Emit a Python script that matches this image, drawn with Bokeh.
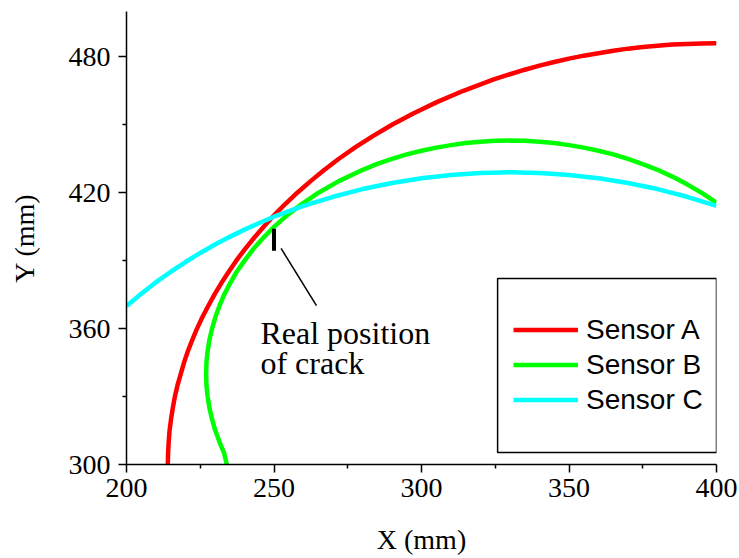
from bokeh.plotting import figure
from bokeh.models import (Range1d, FixedTicker, Legend, LegendItem, Label,
                          BoxAnnotation)
from bokeh.embed import file_html
from bokeh.resources import INLINE

# Located crack position arcs, one per sensor (X, Y in mm)
sensor_a_x = [214.0, 214.1, 214.3, 214.6, 215.1, 215.7, 216.4, 217.3, 218.4, 219.5,
              220.8, 222.3, 223.9, 225.7, 227.7, 229.8, 232.1, 234.6, 237.2, 240.1,
              243.2, 246.5, 250.0, 253.8, 257.9, 262.3, 267.0, 272.0, 277.5, 283.5,
              290.0, 297.2, 305.2, 314.2, 324.5, 330.0, 335.0, 340.0, 345.0, 350.0,
              355.0, 360.0, 365.0, 370.0, 375.0, 380.0, 385.0, 390.0, 395.0, 400.0]
sensor_a_y = [300.0, 305.0, 310.0, 315.0, 320.0, 325.0, 330.0, 335.0, 340.0, 345.0,
              350.0, 355.0, 360.0, 365.0, 370.0, 375.0, 380.0, 385.0, 390.0, 395.0,
              400.0, 405.0, 410.0, 415.0, 420.0, 425.0, 430.0, 435.0, 440.0, 445.0,
              450.0, 455.0, 460.0, 465.0, 470.0, 472.3, 474.3, 476.1, 477.7, 479.2,
              480.5, 481.6, 482.7, 483.6, 484.3, 484.9, 485.4, 485.7, 485.9, 486.0]

sensor_b_x = [234.0, 233.1, 231.5, 230.1, 229.0, 228.1, 227.5, 227.1, 227.0, 227.1,
              227.5, 228.1, 229.0, 230.1, 231.5, 233.1, 235.1, 237.3, 240.0, 242.9,
              246.3, 250.1, 254.4, 259.4, 265.1, 271.8, 279.9, 285.0, 290.0, 295.0,
              300.0, 305.0, 310.0, 315.0, 320.0, 325.0, 330.0, 335.0, 340.0, 345.0,
              350.0, 355.0, 360.0, 365.0, 370.0, 375.0, 380.0, 385.0, 390.0, 395.0,
              400.0]
sensor_b_y = [300.0, 305.0, 310.0, 315.0, 320.0, 325.0, 330.0, 335.0, 340.0, 345.0,
              350.0, 355.0, 360.0, 365.0, 370.0, 375.0, 380.0, 385.0, 390.0, 395.0,
              400.0, 405.0, 410.0, 415.0, 420.0, 425.0, 430.0, 432.7, 434.9, 436.9,
              438.5, 439.9, 441.0, 441.9, 442.5, 442.9, 443.0, 442.9, 442.5, 441.9,
              441.0, 439.9, 438.5, 436.9, 434.9, 432.6, 430.1, 427.1, 423.7, 419.9,
              415.6]

sensor_c_x = [200, 205, 210, 215, 220, 225, 230, 235, 240, 245, 250, 260, 270, 280,
              290, 300, 310, 320, 330, 340, 350, 360, 370, 380, 390, 400]
sensor_c_y = [370.0, 375.4, 380.5, 385.1, 389.4, 393.4, 397.1, 400.5, 403.7, 406.6,
              409.4, 414.2, 418.2, 421.6, 424.3, 426.4, 427.8, 428.7, 429.0, 428.7,
              427.8, 426.4, 424.3, 421.6, 418.2, 414.2]

series_names = ["Sensor A", "Sensor B", "Sensor C"]
series_colors = ["#ff0000", "#00ff00", "#00ffff"]

# Actual crack location (short vertical mark) and its leader line
crack_x = [250.0, 250.0]
crack_y = [394.4, 404.1]
leader_x = [252.4, 264.4]
leader_y = [395.4, 370.1]

x_ticks = [200, 250, 300, 350, 400]
x_minor = [225, 275, 325, 375]
y_ticks = [300, 360, 420, 480]
y_minor = [330, 390, 450]

SERIF = "Liberation Serif"
SANS = "Liberation Sans"

p = figure(width=739, height=558, output_backend="svg", toolbar_location=None,
           x_range=Range1d(200, 400), y_range=Range1d(300, 500),
           min_border_left=126, min_border_right=23, min_border_top=11,
           min_border_bottom=94)
p.outline_line_color = None
p.xgrid.visible = False
p.ygrid.visible = False
p.background_fill_color = "white"
p.border_fill_color = "white"

for ax, ticks, minor, label in ((p.xaxis[0], x_ticks, x_minor, "X (mm)"),
                                (p.yaxis[0], y_ticks, y_minor, "Y (mm)")):
    ax.ticker = FixedTicker(ticks=ticks, minor_ticks=minor)
    ax.axis_label = label
    ax.axis_line_width = 1.5
    ax.axis_line_color = "black"
    ax.major_tick_line_width = 1.5
    ax.minor_tick_line_width = 1.5
    ax.major_tick_line_color = "black"
    ax.minor_tick_line_color = "black"
    ax.major_tick_in = 0
    ax.major_tick_out = 8
    ax.minor_tick_in = 0
    ax.minor_tick_out = 4
    ax.major_label_text_font = SERIF
    ax.major_label_text_font_size = "28px"
    ax.major_label_text_color = "black"
    ax.axis_label_text_font = SERIF
    ax.axis_label_text_font_size = "28px"
    ax.axis_label_text_font_style = "normal"
    ax.axis_label_text_color = "black"

p.xaxis[0].major_label_standoff = 6
p.xaxis[0].axis_label_standoff = 24
p.yaxis[0].major_label_standoff = 8
p.yaxis[0].axis_label_standoff = 26

renderers = []
for xs, ys, color in ((sensor_a_x, sensor_a_y, series_colors[0]),
                      (sensor_b_x, sensor_b_y, series_colors[1]),
                      (sensor_c_x, sensor_c_y, series_colors[2])):
    r = p.line(xs, ys, line_color=color, line_width=4.5, line_join="round")
    renderers.append(r)

p.line(crack_x, crack_y, line_color="black", line_width=4)
p.line(leader_x, leader_y, line_color="black", line_width=1.5)

p.add_layout(Label(x=245.4, y=358.2, text="Real position", text_font=SERIF,
                   text_font_size="32px", text_color="black",
                   text_baseline="alphabetic"))
p.add_layout(Label(x=245.4, y=344.9, text="of crack", text_font=SERIF,
                   text_font_size="32px", text_color="black",
                   text_baseline="alphabetic"))

# Legend frame
p.add_layout(BoxAnnotation(left=325.8, right=400, bottom=305.3, top=382.1,
                           fill_alpha=0, line_color="black", line_alpha=1,
                           line_width=1.5))

legend = Legend(items=[LegendItem(label=n, renderers=[r])
                       for n, r in zip(series_names, renderers)],
                location=(371, 31), orientation="vertical",
                padding=16, margin=0, spacing=0,
                glyph_width=65, glyph_height=35, label_height=35,
                label_standoff=8, label_text_font=SANS,
                label_text_font_size="28px", label_text_color="black",
                border_line_alpha=0, background_fill_alpha=0)
p.add_layout(legend, "center")

open("out.html", "w").write(file_html(p, INLINE))
